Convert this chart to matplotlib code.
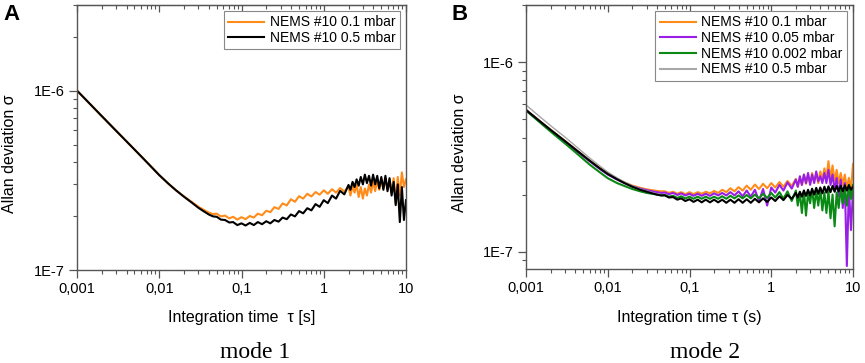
import matplotlib
matplotlib.use("Agg")
import matplotlib.pyplot as plt
from matplotlib.ticker import LogLocator, NullFormatter, FixedLocator, FixedFormatter
import numpy as np

plt.rcParams['font.family'] = ['Liberation Sans', 'DejaVu Sans']

# ---------------- data (sigma in units of 1e-7) ----------------
tau_smooth = [0.001, 0.0015, 0.002, 0.003, 0.004, 0.006, 0.008, 0.01, 0.013, 0.016,
              0.02, 0.025, 0.03, 0.035, 0.04, 0.045]
tau_noisy = [0.05, 0.056, 0.063, 0.071, 0.079, 0.089, 0.1, 0.112, 0.126, 0.141, 0.158, 0.178,
             0.2, 0.224, 0.251, 0.282, 0.316, 0.355, 0.398, 0.447, 0.501, 0.562, 0.631, 0.708,
             0.794, 0.891, 1.0, 1.12, 1.26, 1.41, 1.58, 1.78,
             2.0, 2.11, 2.24, 2.37, 2.51, 2.66, 2.82, 2.99, 3.16, 3.35, 3.55, 3.76, 3.98, 4.22,
             4.47, 4.73, 5.01, 5.31, 5.62, 5.96, 6.31, 6.68, 7.08, 7.5, 7.94, 8.41, 8.91, 9.44, 10.0]

# Panel A, mode 1
a_orange_smooth = [10.0, 8.26, 7.21, 5.96, 5.21, 4.31, 3.76, 3.38, 3.02, 2.78, 2.57, 2.39, 2.25, 2.16, 2.09, 2.05]
a_orange_noisy = [2.06, 1.99, 2.01, 1.94, 1.98, 1.91, 1.97, 1.92, 2.00, 1.96, 2.06, 2.02,
                  2.14, 2.10, 2.24, 2.19, 2.35, 2.29, 2.48, 2.40, 2.58, 2.50, 2.66, 2.57,
                  2.72, 2.63, 2.78, 2.66, 2.82, 2.70, 2.86, 2.74,
                  2.92, 2.60, 2.95, 2.70, 2.98, 2.55, 2.90, 2.50, 2.85, 2.60, 3.00, 2.70, 3.10, 2.75,
                  3.15, 2.80, 3.20, 2.85, 3.25, 2.80, 3.20, 2.70, 3.25, 2.35, 3.30, 2.60, 3.50, 2.90, 3.20]
a_black_smooth = [10.0, 8.26, 7.21, 5.96, 5.21, 4.31, 3.76, 3.38, 3.02, 2.78, 2.56, 2.37, 2.22, 2.12, 2.04, 1.99]
a_black_noisy = [1.98, 1.91, 1.90, 1.84, 1.85, 1.78, 1.82, 1.77, 1.83, 1.78, 1.85, 1.80,
                 1.87, 1.82, 1.90, 1.86, 1.96, 1.92, 2.04, 1.99, 2.13, 2.07, 2.21, 2.15,
                 2.33, 2.25, 2.45, 2.36, 2.60, 2.50, 2.76, 2.64,
                 2.98, 2.80, 3.10, 2.90, 3.20, 2.95, 3.30, 3.00, 3.40, 3.05, 3.35, 2.95, 3.40, 3.00,
                 3.35, 2.85, 3.30, 2.80, 3.35, 2.75, 3.25, 2.60, 3.10, 2.30, 3.00, 1.85, 2.90, 1.90, 2.45]

# Panel B, mode 2
b_orange_smooth = [5.59, 4.85, 4.39, 3.83, 3.47, 3.02, 2.75, 2.57, 2.42, 2.32, 2.23, 2.17, 2.13, 2.11, 2.09, 2.08]
b_orange_noisy = [2.08, 2.04, 2.07, 2.02, 2.06, 2.01, 2.06, 2.01, 2.06, 2.02, 2.07, 2.03,
                  2.09, 2.04, 2.12, 2.06, 2.16, 2.08, 2.19, 2.10, 2.23, 2.12, 2.26, 2.14,
                  2.28, 2.16, 2.30, 2.18, 2.33, 2.20, 2.36, 2.22,
                  2.42, 2.20, 2.45, 2.25, 2.55, 2.28, 2.50, 2.30, 2.60, 2.35, 2.55, 2.30, 2.65, 2.40,
                  2.75, 2.45, 3.00, 2.40, 2.85, 2.35, 2.70, 2.30, 2.60, 2.25, 2.55, 2.15, 2.45, 2.10, 2.90]
b_purple_smooth = [5.59, 4.83, 4.36, 3.80, 3.44, 3.00, 2.73, 2.55, 2.40, 2.30, 2.21, 2.15, 2.11, 2.08, 2.06, 2.04]
b_purple_noisy = [2.05, 2.01, 2.04, 1.99, 2.03, 1.98, 2.02, 1.97, 2.02, 1.97, 2.02, 1.97,
                  2.03, 1.98, 2.04, 1.98, 2.06, 1.98, 2.08, 1.96, 2.10, 1.95, 2.12, 1.85,
                  2.14, 1.75, 2.18, 2.05, 2.25, 2.10, 2.32, 2.15,
                  2.40, 2.20, 2.50, 2.25, 2.55, 2.30, 2.60, 2.25, 2.55, 2.30, 2.65, 2.35, 2.50, 2.30,
                  2.60, 2.30, 2.70, 2.25, 2.55, 2.10, 2.45, 1.95, 2.40, 1.70, 2.30, 0.84, 2.20, 1.30, 2.10]
b_green_smooth = [5.55, 4.78, 4.30, 3.72, 3.35, 2.88, 2.62, 2.44, 2.30, 2.22, 2.14, 2.08, 2.04, 2.02, 2.00, 1.98]
b_green_noisy = [1.99, 1.95, 1.97, 1.92, 1.96, 1.91, 1.95, 1.90, 1.95, 1.90, 1.95, 1.90,
                 1.95, 1.90, 1.96, 1.90, 1.97, 1.91, 1.98, 1.91, 1.99, 1.91, 2.00, 1.91,
                 2.02, 1.92, 2.04, 1.93, 2.06, 1.90, 2.08, 1.85,
                 2.10, 1.75, 2.05, 1.60, 2.10, 1.55, 2.05, 1.80, 2.15, 1.70, 2.10, 1.75, 2.15, 1.65,
                 2.05, 1.60, 2.10, 1.50, 2.00, 1.36, 2.05, 1.70, 2.15, 1.80, 2.20, 1.75, 2.25, 1.90, 2.25]
b_black_smooth = [5.59, 4.85, 4.39, 3.83, 3.47, 3.02, 2.75, 2.57, 2.41, 2.30, 2.20, 2.12, 2.07, 2.03, 2.00, 1.98]
b_black_noisy = [1.98, 1.93, 1.94, 1.88, 1.91, 1.85, 1.89, 1.83, 1.88, 1.82, 1.88, 1.82,
                 1.88, 1.82, 1.88, 1.81, 1.88, 1.81, 1.89, 1.81, 1.89, 1.81, 1.90, 1.82,
                 1.91, 1.83, 1.93, 1.85, 1.96, 1.87, 1.99, 1.90,
                 2.04, 1.93, 2.07, 1.95, 2.10, 1.97, 2.12, 1.98, 2.14, 2.00, 2.17, 2.02, 2.18, 2.03,
                 2.20, 2.05, 2.21, 2.06, 2.22, 2.07, 2.22, 2.08, 2.23, 2.08, 2.24, 2.10, 2.24, 2.12, 2.20]
b_gray_smooth = [5.94, 5.12, 4.62, 4.02, 3.62, 3.12, 2.83, 2.63, 2.45, 2.33, 2.22, 2.14, 2.09, 2.05, 2.02, 2.00]

xtick_values = [0.001, 0.01, 0.1, 1, 10]
xtick_labels = ['0,001', '0,01', '0,1', '1', '10']
ytick_values = [1e-7, 1e-6]
ytick_labels = ['1E-7', '1E-6']

labels_A = ['NEMS #10 0.1 mbar', 'NEMS #10 0.5 mbar']
labels_B = ['NEMS #10 0.1 mbar', 'NEMS #10 0.05 mbar', 'NEMS #10 0.002 mbar', 'NEMS #10 0.5 mbar']

C_ORANGE = '#FF8C1A'
C_PURPLE = '#9A1FE6'
C_GREEN = '#0A8A14'
C_GRAY = '#A8A8A8'
C_BLACK = '#000000'
SPINE = '#555555'

W, H = 865, 363
fig = plt.figure(figsize=(W / 100, H / 100), dpi=100)

axA = fig.add_axes([77 / W, 1 - 270 / H, 329 / W, 265 / H])
axB = fig.add_axes([526 / W, 1 - 269 / H, 327 / W, 264 / H])

tau = np.array(tau_smooth + tau_noisy)
ts = np.array(tau_smooth)
unit = 1e-7

lw = 1.5
lo, = axA.plot(tau, np.array(a_orange_smooth + a_orange_noisy) * unit, color=C_ORANGE, lw=lw)
lb, = axA.plot(tau, np.array(a_black_smooth + a_black_noisy) * unit, color=C_BLACK, lw=lw)

bo, = axB.plot(tau, np.array(b_orange_smooth + b_orange_noisy) * unit, color=C_ORANGE, lw=lw)
bp, = axB.plot(tau, np.array(b_purple_smooth + b_purple_noisy) * unit, color=C_PURPLE, lw=lw)
bg, = axB.plot(tau, np.array(b_green_smooth + b_green_noisy) * unit, color=C_GREEN, lw=lw)
bgr, = axB.plot(ts, np.array(b_gray_smooth) * unit, color=C_GRAY, lw=1.0)
axB.plot(tau, np.array(b_black_smooth + b_black_noisy) * unit, color=C_BLACK, lw=lw)

ylims = {axA: (1e-7, 3e-6), axB: (8.1e-8, 2.0e-6)}

for ax in (axA, axB):
    ax.set_xscale('log')
    ax.set_yscale('log')
    ax.set_xlim(0.001, 10)
    ax.set_ylim(*ylims[ax])
    ax.xaxis.set_major_locator(FixedLocator(xtick_values))
    ax.xaxis.set_major_formatter(FixedFormatter(xtick_labels))
    ax.xaxis.set_minor_locator(LogLocator(base=10, subs=np.arange(2, 10), numticks=20))
    ax.xaxis.set_minor_formatter(NullFormatter())
    ax.yaxis.set_major_locator(FixedLocator(ytick_values))
    ax.yaxis.set_major_formatter(FixedFormatter(ytick_labels))
    ax.yaxis.set_minor_locator(LogLocator(base=10, subs=np.arange(2, 10), numticks=20))
    ax.yaxis.set_minor_formatter(NullFormatter())
    for s in ax.spines.values():
        s.set_color(SPINE)
        s.set_linewidth(1.0)
    ax.tick_params(axis='both', which='major', direction='out', length=5.5, width=0.9,
                   color=SPINE, pad=3)
    ax.tick_params(axis='x', which='major', labelsize=10.5)
    ax.tick_params(axis='y', which='major', labelsize=10.5)
    ax.tick_params(axis='both', which='minor', direction='out', length=3, width=0.8, color=SPINE)
    ax.tick_params(axis='y', which='both', right=False)
    ax.tick_params(axis='x', which='both', top=False)
    # inward ticks along the top edge
    sec = ax.secondary_xaxis('top')
    sec.xaxis.set_major_locator(FixedLocator(xtick_values))
    sec.xaxis.set_minor_locator(LogLocator(base=10, subs=np.arange(2, 10), numticks=20))
    sec.xaxis.set_major_formatter(NullFormatter())
    sec.xaxis.set_minor_formatter(NullFormatter())
    sec.tick_params(which='major', direction='in', length=5, width=0.9, color=SPINE)
    sec.tick_params(which='minor', direction='in', length=3, width=0.8, color=SPINE)
    sec.spines['top'].set_color(SPINE)

axA.set_xlabel('Integration time  \u03c4 [s]', fontsize=11.5)
axB.set_xlabel('Integration time \u03c4 (s)', fontsize=11.5)
axA.xaxis.set_label_coords(0.5, -0.152)
axB.xaxis.set_label_coords(0.5, -0.156)
for ax in (axA, axB):
    ax.set_ylabel('Allan deviation \u03c3', fontsize=11.5)
axA.yaxis.set_label_coords(-0.182, 0.44)
axB.yaxis.set_label_coords(-0.179, 0.44)

legkw = dict(loc='upper right', fontsize=10, frameon=True, fancybox=False, edgecolor='#888888',
             framealpha=1, handlelength=2.6, borderpad=0.3, labelspacing=0.12,
             handletextpad=0.4, borderaxespad=0.45)
legA = axA.legend([lo, lb], labels_A, **legkw)
legB = axB.legend([bo, bp, bg, bgr], labels_B, **legkw)
for leg in (legA, legB):
    leg.get_frame().set_linewidth(0.8)
    for h in leg.get_lines():
        h.set_linewidth(1.5)

fig.text(12 / W, 1 - 15 / H, 'A', fontsize=16, fontweight='bold', ha='center', va='center')
fig.text(460 / W, 1 - 15 / H, 'B', fontsize=16, fontweight='bold', ha='center', va='center')

fig.text(255 / W, 1 - 352 / H, 'mode 1', fontsize=17, family='Liberation Serif', ha='center', va='center')
fig.text(705 / W, 1 - 352 / H, 'mode 2', fontsize=17, family='Liberation Serif', ha='center', va='center')

fig.savefig('out.png', dpi=100)
